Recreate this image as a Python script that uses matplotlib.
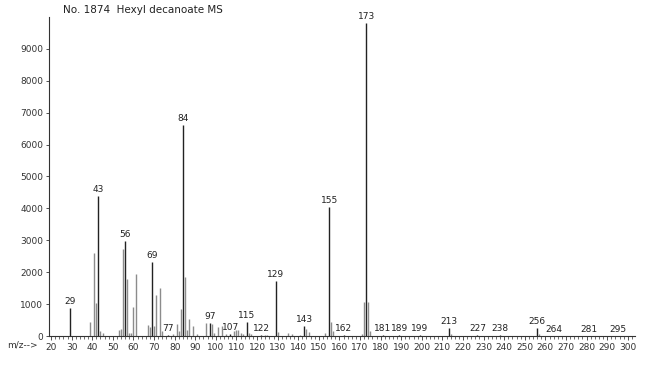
import numpy as np
import matplotlib
matplotlib.use("Agg")
import matplotlib.pyplot as plt
from matplotlib.ticker import MultipleLocator

# --- spectrum data (m/z, abundance) ---
mz = [29, 39, 41, 42, 43, 44, 45, 53, 54, 55, 56, 57, 58, 59, 60, 61,
      67, 68, 69, 70, 71, 73, 74, 77, 79, 81, 82, 83, 84, 85, 86, 87, 89, 91,
      95, 97, 98, 99, 101, 103, 105, 107, 109, 110, 111, 112, 113, 115, 116, 117,
      122, 124, 125, 129, 130, 135, 137, 141, 143, 144, 145, 153, 155, 156, 157,
      162, 171, 172, 173, 174, 175, 181, 189, 199, 213, 214, 227, 238, 256, 257,
      264, 281, 295]
abundance = [880, 450, 2600, 1030, 4380, 150, 80, 180, 230, 2720, 2990, 1790, 100, 80, 920, 1940,
             350, 270, 2320, 320, 1290, 1500, 150, 40, 50, 380, 170, 850, 6600, 1850, 200, 530, 300, 50,
             400, 420, 380, 100, 280, 300, 50, 50, 150, 200, 180, 100, 50, 430, 80, 60,
             30, 40, 30, 1730, 130, 100, 50, 40, 320, 230, 130, 100, 4040, 440, 150,
             20, 50, 1080, 9800, 1080, 150, 20, 20, 30, 250, 50, 20, 20, 250, 50,
             10, 10, 10]

# peaks that carry an m/z label
labeled = [29, 43, 56, 69, 77, 84, 97, 107, 115, 122, 129, 143, 155, 162, 173,
           181, 189, 199, 213, 227, 238, 256, 264, 281, 295]

fig = plt.figure(figsize=(6.5, 3.68), dpi=100)
ax = fig.add_axes([49 / 650, 32 / 368, 586 / 650, 319 / 368])

for m, a in zip(mz, abundance):
    col = "#222222" if m in labeled else "#8c8c8c"
    ax.vlines(m, 0, a, color=col, linewidth=1.0)
    if m in labeled:
        ax.annotate(str(m), (m, a), xytext=(0, 1.5), textcoords="offset points",
                    ha="center", va="bottom", fontsize=6.5, color="#222222")

ax.set_xlim(19.0, 303.5)
ax.set_ylim(0, 10000)
ax.xaxis.set_major_locator(MultipleLocator(10))
ax.xaxis.set_minor_locator(MultipleLocator(2))
ax.set_xticks(np.arange(20, 301, 10))
ax.set_yticks(np.arange(0, 9001, 1000))
ax.tick_params(axis="x", which="major", length=3, width=0.6, labelsize=6.5, pad=2, colors="#333333")
ax.tick_params(axis="x", which="minor", length=2, width=0.5, colors="#333333")
ax.tick_params(axis="y", which="major", length=2, width=0.6, labelsize=6.5, pad=2, colors="#333333")

for s in ["top", "right"]:
    ax.spines[s].set_visible(False)
for s in ["left", "bottom"]:
    ax.spines[s].set_linewidth(0.8)
    ax.spines[s].set_color("#333333")

fig.text(7 / 650, 1 - 345 / 368, "m/z-->", fontsize=6.5, color="#333333", va="center")
fig.text(63 / 650, 1 - 10 / 368, "No. 1874  Hexyl decanoate MS", fontsize=7.5,
         color="#222222", va="center")

fig.savefig("out.png", dpi=100)
